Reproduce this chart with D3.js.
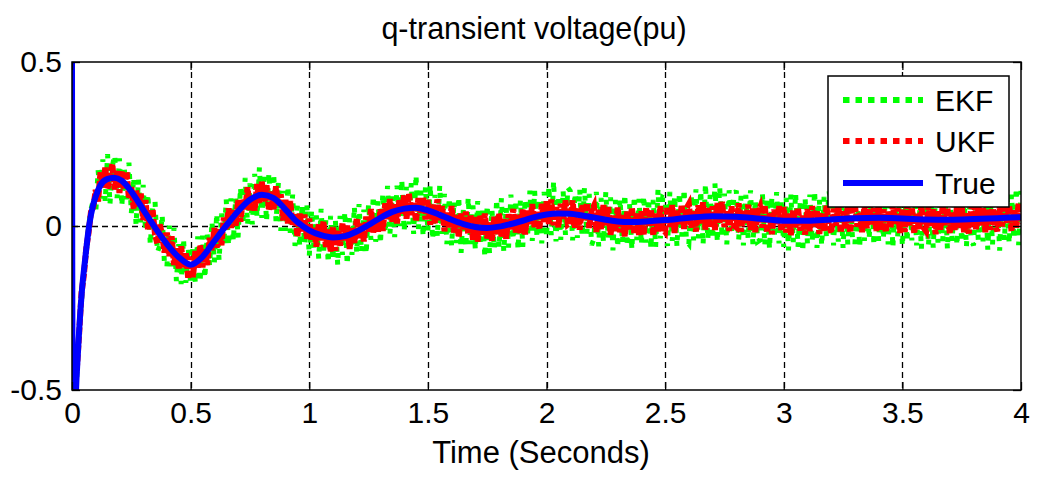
<!DOCTYPE html>
<html>
<head>
<meta charset="utf-8">
<script src="https://cdn.jsdelivr.net/npm/d3@7"></script>
<style>
  body { margin: 0; background: #fff; }
  svg text { font-family: "Liberation Sans", Arial, sans-serif; fill: #000; }
</style>
</head>
<body>
<svg width="1037" height="486"></svg>
<script>
// ---- data ----
var xTicks = [0, 0.5, 1, 1.5, 2, 2.5, 3, 3.5, 4];
var xTickLabels = ["0", "0.5", "1", "1.5", "2", "2.5", "3", "3.5", "4"];
var yTicks = [-0.5, 0, 0.5];
var yTickLabels = ["-0.5", "0", "0.5"];

var trueTime = [0, 0.003, 0.012, 0.017, 0.024, 0.03, 0.042, 0.055, 0.072, 0.089,
  0.1, 0.118, 0.148, 0.177, 0.21, 0.25, 0.3, 0.35, 0.4, 0.45,
  0.5, 0.55, 0.6, 0.65, 0.7, 0.75, 0.8, 0.85, 0.9, 0.95,
  1.0, 1.05, 1.1, 1.15, 1.2, 1.25, 1.3, 1.35, 1.4, 1.45,
  1.5, 1.55, 1.6, 1.65, 1.7, 1.75, 1.8, 1.85, 1.9, 1.95,
  2.0, 2.05, 2.1, 2.15, 2.2, 2.25, 2.3, 2.35, 2.4,
  2.5, 2.6, 2.7, 2.8, 2.9, 3.0, 3.1, 3.2, 3.3, 3.4, 3.5, 3.6, 3.7, 3.8, 3.9, 4.0];
var trueValue = [0.5, -0.62, -0.62, -0.5, -0.4, -0.32, -0.195, -0.104, 0.0, 0.064,
  0.09, 0.122, 0.143, 0.147, 0.138, 0.105, 0.05, -0.005, -0.055, -0.095,
  -0.118, -0.094, -0.046, 0.001, 0.045, 0.08, 0.095, 0.085, 0.05, 0.012,
  -0.013, -0.028, -0.035, -0.031, -0.017, 0.003, 0.025, 0.043, 0.053, 0.056,
  0.048, 0.034, 0.019, 0.006, -0.003, -0.006, -0.002, 0.006, 0.016, 0.027,
  0.035, 0.038, 0.037, 0.032, 0.026, 0.019, 0.014, 0.012, 0.013,
  0.018, 0.025, 0.03, 0.028, 0.022, 0.016, 0.016, 0.02, 0.024, 0.025, 0.023, 0.02, 0.019, 0.021, 0.024, 0.027];

// filter estimates, one sample every 0.01 s from t = 0.02 to t = 4.00
var ukfValue = [
  -0.44, -0.33, -0.205, -0.15, -0.068, -0.02, 0.043, 0.058,
  0.11, 0.075, 0.164, 0.118, 0.178, 0.114, 0.156, 0.189, 0.111, 0.17,
  0.101, 0.168, 0.111, 0.166, 0.083, 0.119, 0.052, 0.111, 0.06, 0.099,
  0.018, 0.079, -0.01, 0.035, 0.05, -0.027, -0.055, 0.005, -0.027, -0.081,
  -0.02, -0.092, -0.031, -0.119, -0.068, -0.129, -0.062, -0.126, -0.083, -0.161,
  -0.093, -0.156, -0.076, -0.127, -0.059, -0.126, -0.071, -0.119, -0.036, -0.074,
  -0.006, -0.066, -0.01, -0.059, 0.026, -0.013, 0.054, -0.006, 0.048, 0.001,
  0.079, 0.013, 0.082, 0.051, 0.118, 0.048, 0.095, 0.047, 0.128, 0.07,
  0.135, 0.075, 0.124, 0.048, 0.105, 0.051, 0.121, 0.058, 0.097, 0.017,
  0.08, 0.008, 0.076, 0.004, 0.035, -0.032, 0.038, -0.016, 0.035, -0.039,
  0.023, -0.043, -0.006, -0.063, 0.006, -0.044, 0.014, -0.064, -0.011, -0.078,
  -0.003, -0.075, -0.015, -0.06, 0.009, -0.045, 0.001, -0.07, -0.007, -0.052,
  0.023, -0.037, 0.007, -0.047, 0.029, -0.017, 0.052, -0.02, 0.027, -0.017,
  0.051, -0.015, 0.069, 0.021, 0.082, 0.013, 0.066, 0.008, 0.082, 0.038,
  0.093, 0.022, 0.099, 0.034, 0.072, 0.014, 0.085, 0.04, 0.088, 0.02,
  0.08, 0.004, 0.065, 0.008, 0.081, 0.014, 0.061, -0.016, 0.041, -0.004,
  0.061, -0.02, 0.033, -0.034, 0.038, -0.01, 0.044, -0.024, 0.034, -0.042,
  0.027, -0.048, 0.033, -0.026, 0.038, -0.038, 0.01, -0.045, 0.028, -0.025,
  0.038, -0.032, 0.021, -0.039, 0.036, -0.01, 0.052, -0.02, 0.034, -0.022,
  0.05, -0.026, 0.047, 0.003, 0.067, -0.007, 0.045, -0.01, 0.068, 0.01,
  0.075, 0.006, 0.081, 0.002, 0.058, -0.004, 0.068, 0.022, 0.078, 0.005,
  0.011, 0.078, -0.005, 0.056, -0.011, 0.064, 0.015, 0.07, -0.006, 0.047,
  0.062, -0.018, 0.049, -0.011, 0.064, -0.001, 0.058, -0.027, 0.032, -0.015,
  0.056, -0.019, 0.033, -0.032, 0.044, -0.01, 0.056, -0.024, 0.038, -0.027,
  0.045, -0.027, 0.056, -0.002, 0.051, -0.029, 0.038, -0.016, 0.061, -0.009,
  -0.018, 0.059, -0.003, 0.064, -0.021, 0.047, 0.006, 0.065, -0.009, 0.054,
  0.067, -0.005, 0.046, -0.017, 0.063, 0.008, 0.072, -0.011, 0.055, -0.002,
  0.06, -0.012, 0.07, 0.01, 0.074, -0.003, 0.045, -0.015, 0.06, 0.002,
  -0.004, 0.069, -0.017, 0.048, 0.009, 0.065, -0.012, 0.053, -0.019, 0.042,
  0.058, -0.005, 0.063, -0.02, 0.039, -0.025, 0.05, 0.002, 0.061, -0.016,
  0.058, -0.02, 0.038, -0.028, 0.048, -0.004, 0.056, -0.014, 0.032, -0.026,
  0.052, -0.016, 0.061, -0.005, 0.048, -0.024, 0.039, -0.017, 0.062, 0.004,
  -0.02, 0.053, 0.001, 0.066, -0.02, 0.045, -0.007, 0.064, -0.02, 0.05,
  0.064, -0.002, 0.041, -0.019, 0.061, -0.007, 0.067, 0.005, 0.055, -0.015,
  0.069, -0.011, 0.051, -0.018, 0.044, -0.006, 0.064, 0.007, 0.055, -0.021,
  0.053, -0.018, 0.064, 0.0, 0.057, -0.023, 0.037, -0.012, 0.064, -0.006,
  -0.016, 0.062, -0.001, 0.051, -0.025, 0.045, -0.011, 0.063, 0.003, 0.055,
  -0.023, 0.041, -0.012, 0.06, -0.006, 0.064, -0.019, 0.041, -0.023, 0.051,
  0.061, -0.01, 0.064, 0.002, 0.055, -0.019, 0.049, -0.012, 0.068, 0.002,
  -0.016, 0.057, -0.001, 0.069, 0.01, 0.062, -0.016, 0.048, -0.005, 0.069, 0.007];

var ekfValue = [
  -0.46, -0.31, -0.225, -0.13, -0.085, 0.0, 0.05, 0.08,
  0.04, 0.17, 0.084, 0.203, 0.075, 0.219, 0.066, 0.182, 0.217, 0.085,
  0.206, 0.061, 0.179, 0.081, 0.193, 0.039, 0.149, 0.003, 0.142, 0.011,
  0.125, -0.016, 0.098, -0.058, 0.056, 0.075, -0.08, -0.06, 0.035, -0.12,
  -0.125, 0.001, -0.123, -0.006, -0.168, -0.055, -0.177, -0.038, -0.173, -0.067,
  -0.178, -0.061, -0.177, -0.032, -0.171, -0.029, -0.16, -0.026, -0.121, 0.014,
  -0.111, 0.039, -0.106, 0.038, -0.058, 0.081, -0.06, 0.084, -0.047, 0.087,
  -0.035, 0.118, 0.005, 0.147, 0.004, 0.13, 0.005, 0.159, 0.027, 0.179,
  0.025, 0.15, 0.014, 0.162, 0.039, 0.16, 0.014, 0.132, -0.015, 0.107,
  -0.015, 0.122, -0.021, 0.096, -0.061, 0.062, -0.064, 0.065, -0.055, 0.066,
  -0.093, 0.048, -0.07, 0.032, -0.101, 0.052, -0.085, 0.018, -0.113, 0.031,
  -0.105, 0.02, -0.12, 0.031, -0.088, 0.044, -0.119, 0.024, -0.088, 0.06,
  -0.082, 0.067, -0.079, 0.05, -0.086, 0.068, -0.042, 0.092, -0.048, 0.076,
  -0.055, 0.099, -0.022, 0.122, -0.025, 0.093, -0.034, 0.123, 0.0, 0.142,
  -0.017, 0.119, 0.005, 0.131, -0.024, 0.156, -0.01, 0.109, -0.033, 0.12,
  -0.017, 0.126, -0.042, 0.095, -0.033, 0.124, -0.024, 0.098, -0.055, 0.087,
  -0.061, 0.076, -0.052, 0.09, -0.082, 0.056, -0.066, 0.087, -0.055, 0.063,
  -0.073, 0.076, -0.06, 0.059, -0.096, 0.064, -0.086, 0.05, -0.069, 0.082,
  -0.067, 0.085, -0.079, 0.058, -0.066, 0.096, -0.042, 0.08, -0.073, 0.079,
  -0.064, 0.083, -0.034, 0.108, -0.045, 0.107, -0.036, 0.085, -0.053, 0.104,
  -0.035, 0.121, -0.028, 0.138, -0.047, 0.093, -0.042, 0.108, -0.027, 0.117,
  0.107, -0.044, 0.1, -0.036, 0.113, -0.033, 0.116, -0.025, 0.098, -0.058,
  -0.039, 0.104, -0.062, 0.086, -0.05, 0.104, -0.037, 0.087, -0.074, 0.08,
  -0.066, 0.083, -0.052, 0.097, -0.063, 0.067, -0.073, 0.092, -0.043, 0.083,
  -0.057, 0.093, -0.051, 0.084, -0.07, 0.08, -0.064, 0.111, -0.038, 0.087,
  0.083, -0.061, 0.104, -0.045, 0.091, -0.064, 0.102, -0.032, 0.113, -0.046,
  -0.055, 0.095, -0.044, 0.112, -0.038, 0.108, -0.057, 0.129, -0.041, 0.095,
  -0.04, 0.13, -0.05, 0.12, -0.035, 0.099, -0.056, 0.109, -0.027, 0.093,
  0.108, -0.043, 0.092, -0.059, 0.095, -0.04, 0.109, -0.057, 0.078, -0.048,
  -0.043, 0.101, -0.059, 0.085, -0.071, 0.089, -0.037, 0.103, -0.053, 0.081,
  -0.064, 0.086, -0.074, 0.096, -0.049, 0.101, -0.064, 0.081, -0.079, 0.086,
  -0.054, 0.096, -0.048, 0.107, -0.067, 0.083, -0.061, 0.089, -0.035, 0.105,
  0.085, -0.059, 0.106, -0.048, 0.102, -0.067, 0.078, -0.056, 0.094, -0.041,
  -0.056, 0.094, -0.065, 0.09, -0.045, 0.11, -0.04, 0.105, -0.06, 0.08,
  -0.045, 0.105, -0.04, 0.119, -0.056, 0.089, -0.066, 0.093, -0.032, 0.103,
  -0.062, 0.087, -0.048, 0.102, -0.044, 0.106, -0.059, 0.09, -0.07, 0.085,
  0.09, -0.06, 0.084, -0.066, 0.099, -0.051, 0.104, -0.046, 0.089, -0.071,
  0.099, -0.046, 0.09, -0.06, 0.105, -0.05, 0.086, -0.064, 0.101, -0.044,
  -0.059, 0.092, -0.043, 0.107, -0.047, 0.103, -0.072, 0.089, -0.056, 0.114,
  0.089, -0.075, 0.105, -0.045, 0.111, -0.054, 0.096, -0.039, 0.117, -0.058, 0.107];

var sampleTime = d3.range(2, 401).map(function (i) { return i / 100; });

var seriesNames = ["EKF", "UKF", "True"];
var seriesColors = ["#00ff00", "#ff0000", "#0000ff"];

// ---- layout ----
var svg = d3.select("svg");
var plotLeft = 72, plotRight = 1021, plotTop = 62, plotBottom = 390;

var x = d3.scaleLinear().domain([0, 4]).range([plotLeft, plotRight]);
var y = d3.scaleLinear().domain([-0.5, 0.5]).range([plotBottom, plotTop]);

svg.append("defs").append("clipPath").attr("id", "plotclip")
  .append("rect").attr("x", plotLeft).attr("y", plotTop)
  .attr("width", plotRight - plotLeft).attr("height", plotBottom - plotTop);

// grid
var grid = svg.append("g").attr("stroke", "#000").attr("stroke-width", 1.3)
  .attr("stroke-dasharray", "6,4");
grid.selectAll("line.gx").data(xTicks.slice(1, -1)).enter().append("line")
  .attr("x1", function (d) { return Math.round(x(d)) + 0.5; })
  .attr("x2", function (d) { return Math.round(x(d)) + 0.5; })
  .attr("y1", plotTop).attr("y2", plotBottom);
grid.selectAll("line.gy").data(yTicks.slice(1, -1)).enter().append("line")
  .attr("x1", plotLeft).attr("x2", plotRight)
  .attr("y1", function (d) { return Math.round(y(d)) + 0.5; })
  .attr("y2", function (d) { return Math.round(y(d)) + 0.5; });

// series
var plot = svg.append("g").attr("clip-path", "url(#plotclip)");

var noisyLine = d3.line()
  .x(function (d, i) { return x(sampleTime[i]); })
  .y(function (d) { return y(d); });

plot.append("path").datum(ekfValue)
  .attr("d", noisyLine)
  .attr("fill", "none").attr("stroke", seriesColors[0])
  .attr("stroke-width", 5).attr("stroke-dasharray", "5,8");

plot.append("path").datum(ukfValue)
  .attr("d", noisyLine)
  .attr("fill", "none").attr("stroke", seriesColors[1])
  .attr("stroke-width", 6).attr("stroke-dasharray", "7,2");

var trueLine = d3.line()
  .x(function (d, i) { return x(trueTime[i]); })
  .y(function (d) { return y(d); })
  .curve(d3.curveMonotoneX);

plot.append("path").datum(trueValue)
  .attr("d", trueLine)
  .attr("fill", "none").attr("stroke", seriesColors[2])
  .attr("stroke-width", 6).attr("stroke-linejoin", "round");

// axes (ticks point inward)
var xAxis = d3.axisBottom(x).tickValues(xTicks)
  .tickFormat(function (d, i) { return xTickLabels[i]; })
  .tickSizeInner(-8).tickSizeOuter(0).tickPadding(12);
var yAxis = d3.axisLeft(y).tickValues(yTicks)
  .tickFormat(function (d, i) { return yTickLabels[i]; })
  .tickSizeInner(-8).tickSizeOuter(0).tickPadding(10);

var gx = svg.append("g").attr("transform", "translate(0," + plotBottom + ")").call(xAxis);
var gy = svg.append("g").attr("transform", "translate(" + plotLeft + ",0)").call(yAxis);
svg.append("g").attr("transform", "translate(0," + plotTop + ")")
  .call(d3.axisTop(x).tickValues(xTicks).tickFormat("").tickSizeInner(-8).tickSizeOuter(0));
svg.append("g").attr("transform", "translate(" + plotRight + ",0)")
  .call(d3.axisRight(y).tickValues(yTicks).tickFormat("").tickSizeInner(-8).tickSizeOuter(0));

svg.selectAll(".domain").remove();
svg.selectAll(".tick line").attr("stroke", "#000").attr("stroke-width", 1.3);
gx.selectAll("text").style("font-size", "30px").attr("fill", "#000");
gy.selectAll("text").style("font-size", "30px").attr("fill", "#000");

// box
svg.append("rect").attr("x", plotLeft).attr("y", plotTop)
  .attr("width", plotRight - plotLeft).attr("height", plotBottom - plotTop)
  .attr("fill", "none").attr("stroke", "#000").attr("stroke-width", 1.5);

// titles
svg.append("text").attr("x", 534).attr("y", 39)
  .attr("text-anchor", "middle").style("font-size", "30.5px")
  .text("q-transient voltage(pu)");
svg.append("text").attr("x", 541).attr("y", 463)
  .attr("text-anchor", "middle").style("font-size", "31px")
  .text("Time (Seconds)");

// legend
var legend = svg.append("g");
legend.append("rect").attr("x", 828).attr("y", 76).attr("width", 181).attr("height", 131)
  .attr("fill", "#fff").attr("stroke", "#000").attr("stroke-width", 1.5);
var legendY = [100, 141, 183];
seriesNames.forEach(function (name, i) {
  legend.append("line")
    .attr("x1", 843).attr("x2", 923)
    .attr("y1", legendY[i]).attr("y2", legendY[i])
    .attr("stroke", seriesColors[i])
    .attr("stroke-width", 6)
    .attr("stroke-dasharray", i < 2 ? "6.5,6" : null);
  legend.append("text").attr("x", 935).attr("y", legendY[i] + 11)
    .style("font-size", "30px").text(name);
});
</script>
</body>
</html>
